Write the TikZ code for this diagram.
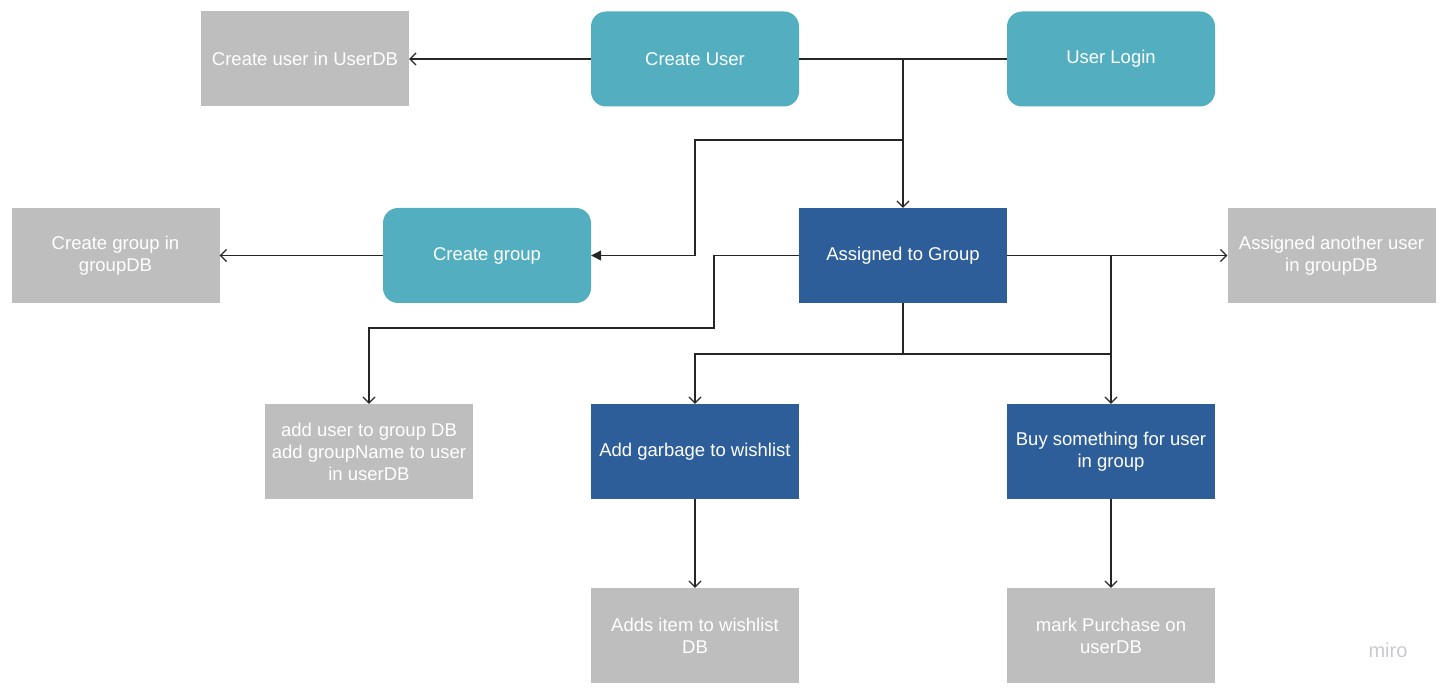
\documentclass[tikz,border=0pt]{standalone}
\usepackage{fontspec}
\setmainfont{Liberation Sans}
\usetikzlibrary{arrows.meta}
\definecolor{tealbox}{HTML}{53AFC0}
\definecolor{bluebox}{HTML}{2D5E99}
\definecolor{graybox}{HTML}{BDBEBD}
\definecolor{logogray}{HTML}{C9C9D2}
\tikzset{
  box/.style={minimum width=208pt, minimum height=95pt, inner sep=0pt,
    align=center, text=white, font=\fontsize{18.5}{22}\selectfont},
  startbox/.style={box, fill=tealbox, rounded corners=15pt},
  actbox/.style={box, fill=bluebox},
  dbbox/.style={box, fill=graybox},
  wire/.style={draw=black!85, line width=1.2pt},
  conn/.style={wire, -{Straight Barb[length=6pt,width=12pt]}},
  fconn/.style={wire, -{Triangle[length=10pt,width=10pt]}}
}
\begin{document}
\begin{tikzpicture}[x=1pt,y=-1pt]
  \useasboundingbox (0,0) rectangle (1444,692);
  % top row
  \node[dbbox] (cudb) at (305,59) {Create user in UserDB};
  \node[startbox] (cu) at (695,59) {Create User};
  \node[startbox] (ul) at (1111,59) {User Login};
  % middle row
  \node[dbbox] (cgdb) at (115.5,255.5) {Create group in\\groupDB};
  \node[startbox] (cg) at (487,255.5) {Create group};
  \node[actbox] (ag) at (903,255.5) {Assigned to Group};
  \node[dbbox] (audb) at (1331.5,255.5) {Assigned another user\\in groupDB};
  % actions
  \node[dbbox] (augdb) at (369,451.5) {add user to group DB\\add groupName to user\\in userDB};
  \node[actbox] (agw) at (695,451.5) {Add garbage to wishlist};
  \node[actbox] (buy) at (1111,451.5) {Buy something for user\\in group};
  % db results
  \node[dbbox] (aidb) at (695,635.5) {Adds item to wishlist\\DB};
  \node[dbbox] (mp) at (1111,635.5) {mark Purchase on\\userDB};
  \node[text=logogray, font=\fontsize{20}{22}\selectfont] (logo) at (1388,650) {miro};

  \coordinate (j1) at (903,59);
  \coordinate (j2) at (903,140);
  \coordinate (j3) at (903,354);
  \coordinate (j4) at (1111,255.5);
  \coordinate (j5) at (1111,354);

  \draw[conn] (cu.west) -- (cudb.east);
  \draw[wire] (cu.east) -- (ul.west);
  \draw[conn] (j1) -- (ag.north);
  \draw[fconn] (j2) -- (695,140) |- (cg.east);
  \draw[conn] (cg.west) -- (cgdb.east);
  \draw[conn] (ag.east) -- (audb.west);
  \draw[conn] (ag.west) -| (714,328) -| (augdb.north);
  \draw[wire] (ag.south) -- (j3) -- (j5);
  \draw[conn] (j3) -| (agw.north);
  \draw[conn] (j4) -- (buy.north);
  \draw[conn] (agw.south) -- (aidb.north);
  \draw[conn] (buy.south) -- (mp.north);
\end{tikzpicture}
\end{document}
